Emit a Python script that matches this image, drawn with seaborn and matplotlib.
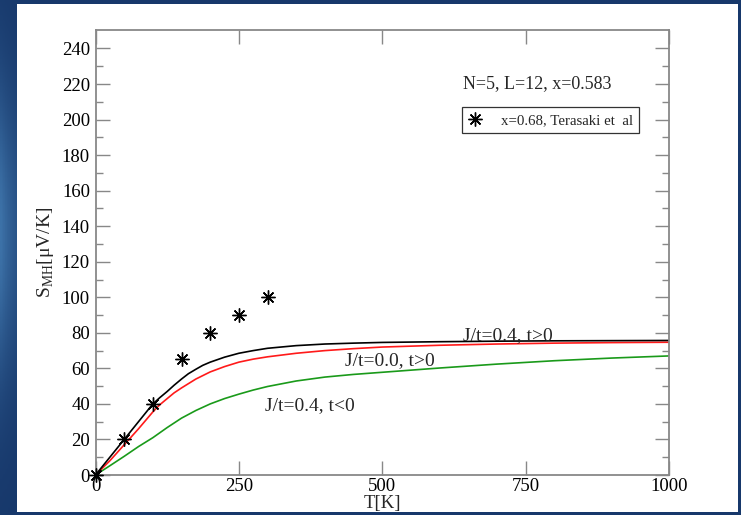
import numpy as np
import pandas as pd
import matplotlib
matplotlib.use("Agg")
import matplotlib.pyplot as plt
from matplotlib.patches import Rectangle
from matplotlib.colors import LinearSegmentedColormap
import seaborn as sns

# ---- data ----
T_exp = [0, 50, 100, 150, 200, 250, 300]
S_exp = [0, 20, 40, 65, 80, 90, 100]

T_black = [0, 25, 50, 75, 100, 112, 125, 137, 150, 162, 175, 187, 200, 225, 250, 275, 300, 350, 400,
           450, 500, 600, 700, 800, 900, 1000]
S_black = [0, 10, 20, 30, 40, 43.5, 47, 50.5, 54, 57, 59.5, 61.7, 63.5, 66.3, 68.5, 70, 71.3, 72.8, 73.7,
           74.2, 74.6, 75.0, 75.3, 75.5, 75.6, 75.7]

T_red = [0, 25, 50, 75, 100, 112, 125, 137, 150, 175, 200, 225, 250, 275, 300, 350, 400, 450, 500,
         600, 700, 800, 900, 1000]
S_red = [0, 8, 17, 26, 35.5, 39.5, 43, 46.2, 49, 54, 58, 61, 63.5, 65.2, 66.5, 68.5, 70, 71.1, 72,
         73, 73.7, 74.2, 74.5, 74.7]

T_green = [0, 25, 50, 75, 100, 125, 150, 175, 200, 225, 250, 275, 300, 350, 400, 450, 500, 600, 700,
           800, 900, 1000]
S_green = [0, 5.2, 10.5, 16, 21, 26.7, 32, 36.3, 40, 43, 45.5, 47.8, 49.8, 52.9, 55.1, 56.6, 57.8, 60.2,
           62.4, 64.3, 65.8, 67]

x_ticks = [0, 250, 500, 750, 1000]
y_ticks = list(range(0, 241, 20))

label_black = "J/t=0.4, t>0"
label_red = "J/t=0.0, t>0"
label_green = "J/t=0.4, t<0"
legend_label = "x=0.68, Terasaki et  al"
info_text = "N=5, L=12, x=0.583"

# ---- style ----
sns.set_style("ticks")
plt.rcParams["font.family"] = ["Liberation Serif", "DejaVu Serif"]
plt.rcParams["mathtext.fontset"] = "custom"
plt.rcParams["mathtext.rm"] = "Liberation Serif"

W, H = 741, 515
fig = plt.figure(figsize=(W / 100, H / 100), dpi=100)
fig.patch.set_facecolor("#17386b")

# background gradient (slide)
bg = fig.add_axes([0, 0, 1, 1], zorder=-10)
yy = np.linspace(0, 1, 200)[:, None]
xx = np.linspace(0, 1, 300)[None, :]
grad = np.exp(-((yy - 0.45) ** 2) / 0.08) * np.exp(-xx / 0.03)
cmap = LinearSegmentedColormap.from_list("b", ["#17386b", "#3d72a8"])
bg.imshow(grad, aspect="auto", cmap=cmap, extent=[0, 1, 0, 1], vmin=0, vmax=1)
bg.axis("off")

panel = Rectangle((17 / W, 3 / H), (738 - 17) / W, (512 - 4) / H,
                  transform=fig.transFigure, facecolor="white", edgecolor="none", zorder=-5)
fig.add_artist(panel)

ax = fig.add_axes([95.5 / W, (H - 475) / H, (669 - 95.5) / W, (475 - 30) / H])
ax.set_facecolor("white")

df_b = pd.DataFrame({"T": T_black, "S": S_black})
df_r = pd.DataFrame({"T": T_red, "S": S_red})
df_g = pd.DataFrame({"T": T_green, "S": S_green})
df_e = pd.DataFrame({"T": T_exp, "S": S_exp})

sns.lineplot(data=df_g, x="T", y="S", ax=ax, color="#1a9a1a", lw=1.2, legend=False)
sns.lineplot(data=df_r, x="T", y="S", ax=ax, color="#ff1a1a", lw=1.2, legend=False)
sns.lineplot(data=df_b, x="T", y="S", ax=ax, color="black", lw=1.2, legend=False)
ax.plot(df_e["T"], df_e["S"], linestyle="none", marker=(8, 2, 0), markersize=10,
        markeredgewidth=1.0, color="black", label=legend_label, clip_on=False, zorder=5)

ax.set_xlim(0, 1000)
ax.set_ylim(0, 250.4)
ax.set_xticks(x_ticks)
ax.set_xticklabels([str(v) for v in x_ticks])
ax.set_yticks(y_ticks)
ax.set_yticklabels([str(v) for v in y_ticks])
ax.set_yticks(list(range(10, 250, 20)), minor=True)

for s in ax.spines.values():
    s.set_color("#888888")
    s.set_linewidth(1.3)
    s.set_visible(True)

ax.tick_params(axis="both", which="major", direction="in", length=10, width=1,
               color="#888888", labelsize=13.5, labelcolor="black",
               top=True, right=True, pad=4)
ax.tick_params(axis="y", which="minor", direction="in", length=5, width=1,
               color="#888888", right=True, left=True)
ax.tick_params(axis="x", which="major", pad=2)

ax.set_ylabel(r"S$_\mathregular{MH}$[μV/K]", fontsize=14, labelpad=4)
xl = ax.set_xlabel("T[K]", fontsize=13.5, labelpad=0)
xl.set_clip_path(panel)

ax.text(0.641, 0.87, info_text, transform=ax.transAxes, fontsize=13, va="baseline", ha="left")
ax.text(641.5, 76, label_black, fontsize=14, ha="left", va="baseline")
ax.text(435, 61.9, label_red, fontsize=14, ha="left", va="baseline")
ax.text(295.5, 36.6, label_green, fontsize=14, ha="left", va="baseline")

leg = ax.legend(loc="upper left", bbox_to_anchor=(0.639, 0.826), frameon=True,
                fancybox=False, fontsize=10.7, handlelength=1.0, handletextpad=1.2,
                borderpad=0.4, borderaxespad=0)
leg.get_frame().set_edgecolor("black")
leg.get_frame().set_linewidth(0.9)

fig.savefig("out.png", dpi=100)
